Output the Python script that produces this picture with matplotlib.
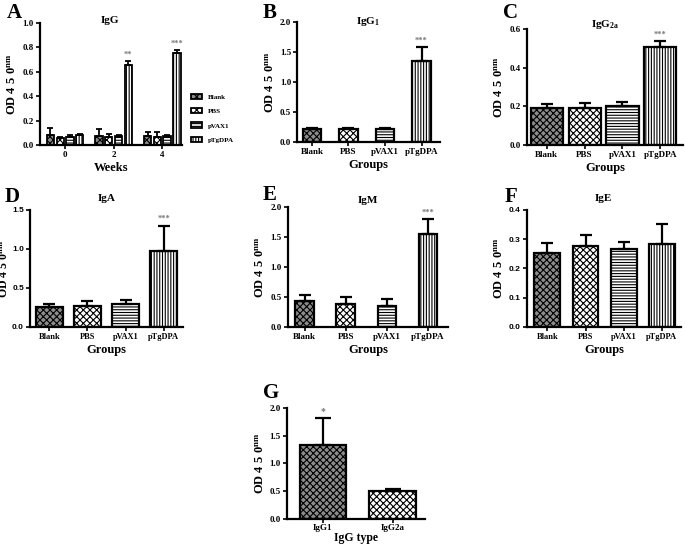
import matplotlib
matplotlib.use('Agg')
import matplotlib.pyplot as plt
import numpy as np

plt.rcParams['font.family'] = 'Liberation Serif'
plt.rcParams['font.weight'] = 'bold'
plt.rcParams['mathtext.fontset'] = 'custom'
plt.rcParams['mathtext.rm'] = 'Liberation Serif:bold'
plt.rcParams['mathtext.it'] = 'Liberation Serif:bold'
plt.rcParams['hatch.linewidth'] = 0.8

groups = ['Blank', 'PBS', 'pVAX1', 'pTgDPA']

# panel A: IgG over weeks
weeks = ['0', '2', '4']
igg_mean = {'Blank': [0.080, 0.075, 0.075], 'PBS': [0.060, 0.065, 0.070],
            'pVAX1': [0.070, 0.075, 0.075], 'pTgDPA': [0.085, 0.655, 0.755]}
igg_err = {'Blank': [0.060, 0.060, 0.030], 'PBS': [0.010, 0.030, 0.040],
           'pVAX1': [0.010, 0.010, 0.010], 'pTgDPA': [0.010, 0.035, 0.025]}
igg_stars = ['', '**', '***']

igg1_mean = [0.22, 0.22, 0.22, 1.34]
igg1_err = [0.02, 0.02, 0.02, 0.24]
igg2a_mean = [0.19, 0.19, 0.20, 0.505]
igg2a_err = [0.025, 0.028, 0.025, 0.03]
iga_mean = [0.26, 0.27, 0.29, 0.98]
iga_err = [0.03, 0.06, 0.06, 0.32]
igm_mean = [0.44, 0.39, 0.35, 1.55]
igm_err = [0.09, 0.11, 0.11, 0.25]
ige_mean = [0.252, 0.277, 0.265, 0.285]
ige_err = [0.035, 0.037, 0.025, 0.066]

types = ['IgG1', 'IgG2a']
type_mean = [1.34, 0.51]
type_err = [0.48, 0.03]

styles = {'Blank': ('#8c8c8c', 'xxxxx'), 'PBS': ('white', 'xxxxx'),
          'pVAX1': ('white', '------'), 'pTgDPA': ('white', '||||||')}

ylab = r'OD $\mathrm{4\ 5\ 0}^{\mathrm{nm}}$'

fig = plt.figure(figsize=(6.85, 5.44), dpi=100)


def style_ax(ax, tickfont='Liberation Serif', tsize=6.5):
    for s in ['top', 'right']:
        ax.spines[s].set_visible(False)
    for s in ['left', 'bottom']:
        ax.spines[s].set_linewidth(1.6)
    ax.tick_params(width=1.2, length=3, labelsize=tsize)
    ax.tick_params(axis='x', pad=1.5)
    ax.tick_params(axis='y', pad=1.5)
    for lb in ax.get_yticklabels():
        lb.set_fontweight('bold')
        lb.set_family(tickfont)
    for lb in ax.get_xticklabels():
        lb.set_fontweight('bold')


def group_panel(rect, means, errs, ylim, yticks, title, toff, width, xlim, stars=None,
                tickfont='Liberation Serif', tsize=6.5, ylx=None, ylsize=9):
    ax = fig.add_axes(rect)
    x = np.arange(len(groups))
    for i, g in enumerate(groups):
        fc, h = styles[g]
        ax.bar(x[i], means[i], width, color=fc, hatch=h, edgecolor='black', linewidth=1.6)
        ax.errorbar(x[i], means[i], yerr=[[0], [errs[i]]], fmt='none', ecolor='black',
                    elinewidth=1.6, capsize=4, capthick=1.6)
    if stars:
        ax.text(x[3], means[3] + errs[3] + ylim[1] * 0.02, stars, ha='center', va='bottom',
                fontsize=6, color='#777777')
    ax.set_xlim(*xlim)
    ax.set_ylim(*ylim)
    ax.set_yticks(yticks)
    ax.set_yticklabels(['%.1f' % v for v in yticks])
    ax.set_xticks(x)
    ax.set_xticklabels(groups)
    ax.set_xlabel('Groups', fontsize=9, fontweight='bold', labelpad=2)
    ax.set_ylabel(ylab, fontsize=ylsize, fontweight='bold', labelpad=2)
    if ylx is not None:
        ax.yaxis.set_label_coords(ylx, 0.5)
    ax.text(0.5, 1 + toff, title, transform=ax.transAxes, ha='center', va='center',
            fontsize=8, fontweight='bold')
    style_ax(ax, tickfont, tsize)
    return ax


# A
axA = fig.add_axes([0.058, 0.733, 0.208, 0.225])
xw = np.arange(len(weeks))
for j, g in enumerate(groups):
    fc, h = styles[g]
    pos = xw + (j - 1.5) * 0.2
    axA.bar(pos, igg_mean[g], 0.15, color=fc, hatch=h, edgecolor='black', linewidth=1.3, label=g)
    axA.errorbar(pos, igg_mean[g], yerr=[np.zeros(3), igg_err[g]], fmt='none', ecolor='black',
                 elinewidth=1.3, capsize=2.5, capthick=1.3)
for k, s in enumerate(igg_stars):
    if s:
        top = igg_mean['pTgDPA'][k] + igg_err['pTgDPA'][k]
        axA.text(xw[k] + 0.3, top + 0.02, s, ha='center', va='bottom', fontsize=6, color='#777777')
axA.set_xlim(-0.52, 2.41)
axA.set_ylim(0, 1.0)
axA.set_yticks([0, 0.2, 0.4, 0.6, 0.8, 1.0])
axA.set_yticklabels(['0.0', '0.2', '0.4', '0.6', '0.8', '1.0'])
axA.set_xticks(xw)
axA.set_xticklabels(weeks)
axA.set_xlabel('Weeks', fontsize=9, fontweight='bold', labelpad=2)
axA.set_ylabel(ylab, fontsize=9, fontweight='bold', labelpad=2)
axA.text(0.49, 1.016, 'IgG', transform=axA.transAxes, ha='center', va='center',
         fontsize=8, fontweight='bold')
style_ax(axA)
leg = axA.legend(loc='center left', bbox_to_anchor=(1.02, 0.22), frameon=False, fontsize=5,
                 handlelength=1.6, handleheight=0.8, labelspacing=1.2)

group_panel([0.434, 0.739, 0.208, 0.221], igg1_mean, igg1_err, (0, 2.0),
            [0, 0.5, 1.0, 1.5, 2.0], r'IgG$_{1}$', 0.0, 0.5, (-0.4, 3.5), '***')
group_panel([0.769, 0.733, 0.228, 0.214], igg2a_mean, igg2a_err, (0, 0.6),
            [0, 0.2, 0.4, 0.6], r'IgG$_{2a}$', 0.035, 0.85, (-0.53, 3.6), '***')
group_panel([0.044, 0.399, 0.223, 0.215], iga_mean, iga_err, (0, 1.5),
            [0, 0.5, 1.0, 1.5], 'IgA', 0.1, 0.7, (-0.5, 3.5), '***',
            tickfont='Liberation Sans', tsize=6, ylx=-0.125, ylsize=8.5)
group_panel([0.420, 0.399, 0.234, 0.220], igm_mean, igm_err, (0, 2.0),
            [0, 0.5, 1.0, 1.5, 2.0], 'IgM', 0.06, 0.45, (-0.41, 3.49), '***')
group_panel([0.769, 0.399, 0.225, 0.215], ige_mean, ige_err, (0, 0.4),
            [0, 0.1, 0.2, 0.3, 0.4], 'IgE', 0.1, 0.68, (-0.54, 3.5),
            tickfont='Liberation Sans', tsize=6)

# G
axG = fig.add_axes([0.419, 0.046, 0.201, 0.204])
xt = np.arange(len(types))
gstyles = [('#8c8c8c', 'xxxxx'), ('white', 'xxxxx')]
for i in range(len(types)):
    axG.bar(xt[i], type_mean[i], 0.66, color=gstyles[i][0], hatch=gstyles[i][1],
            edgecolor='black', linewidth=1.6)
    axG.errorbar(xt[i], type_mean[i], yerr=[[0], [type_err[i]]], fmt='none', ecolor='black',
                 elinewidth=1.6, capsize=6, capthick=1.6)
axG.text(xt[0], type_mean[0] + type_err[0] + 0.04, '*', ha='center', va='bottom',
         fontsize=7, color='#777777')
axG.set_xlim(-0.51, 1.46)
axG.set_ylim(0, 2.0)
axG.set_yticks([0, 0.5, 1.0, 1.5, 2.0])
axG.set_yticklabels(['0.0', '0.5', '1.0', '1.5', '2.0'])
axG.set_xticks(xt)
axG.set_xticklabels(types)
axG.set_xlabel('IgG type', fontsize=8.5, fontweight='bold', labelpad=0)
axG.set_ylabel(ylab, fontsize=9, fontweight='bold', labelpad=2)
style_ax(axG)
axG.tick_params(axis='x', pad=0.5)

# panel letters
letters = [('A', 0.010, 0.976), ('B', 0.384, 0.976), ('C', 0.734, 0.976),
           ('D', 0.007, 0.638), ('E', 0.384, 0.642), ('F', 0.737, 0.638), ('G', 0.384, 0.278)]
for t, x0, y0 in letters:
    fig.text(x0, y0, t, fontsize=15, fontweight='bold', va='center')

fig.savefig('out.png', dpi=100)
